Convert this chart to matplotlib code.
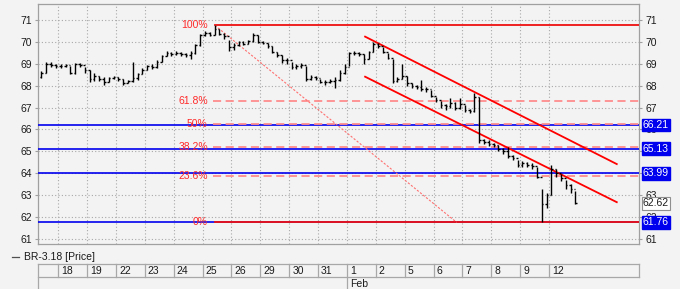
import matplotlib
matplotlib.use("Agg")
import matplotlib.pyplot as plt
from matplotlib.lines import Line2D

plt.rcParams['font.family'] = ['Liberation Sans', 'DejaVu Sans']
plt.rcParams['font.size'] = 7.5

# trading days shown on the axis (day 17 is only partly visible)
day_labels = ['18', '19', '22', '23', '24', '25', '26', '29', '30', '31',
              '1', '2', '5', '6', '7', '8', '9', '12']
month_label = 'Feb'
month_day_index = 10
bars_per_day = 6
first_day_bars = 4

first_open = 68.40
closes = [
    68.60, 69.00, 68.95, 68.90,                  # 17
    68.90, 68.95, 68.60, 69.00, 68.95, 68.70,    # 18
    68.30, 68.45, 68.30, 68.15, 68.35, 68.40,    # 19
    68.30, 68.10, 68.20, 68.35, 68.55, 68.70,    # 22
    68.90, 68.85, 69.10, 69.35, 69.50, 69.45,    # 23
    69.50, 69.45, 69.40, 69.50, 69.85, 70.30,    # 24
    70.40, 70.30, 70.60, 70.35, 70.25, 69.75,    # 25
    69.85, 70.00, 69.90, 70.05, 70.30, 70.00,    # 26
    69.95, 69.80, 69.55, 69.40, 69.15, 69.15,    # 29
    68.85, 68.90, 68.95, 68.30, 68.40, 68.35,    # 30
    68.15, 68.15, 68.20, 68.25, 68.60, 68.85,    # 31
    69.50, 69.50, 69.45, 69.20, 69.55, 69.90,    # 1
    69.80, 69.55, 69.25, 68.20, 68.30, 68.45,    # 2
    68.10, 68.00, 67.95, 67.85, 67.85, 67.55,    # 5
    67.35, 67.10, 67.05, 67.20, 67.00, 67.15,    # 6
    66.90, 66.85, 67.50, 65.50, 65.45, 65.35,    # 7
    65.30, 65.10, 65.00, 64.80, 64.70, 64.40,    # 8
    64.45, 64.40, 64.35, 63.85, 62.60, 63.00,    # 9
    64.20, 64.00, 63.80, 63.45, 63.30, 62.62,    # 12
]
highs = [
    68.65, 69.10, 69.10, 69.00,
    69.00, 69.00, 68.90, 69.05, 69.05, 68.85,
    68.70, 68.60, 68.45, 68.40, 68.40, 68.45,
    68.40, 68.30, 68.25, 69.10, 68.60, 68.80,
    68.95, 69.00, 69.15, 69.40, 69.60, 69.55,
    69.60, 69.55, 69.50, 69.60, 69.90, 70.35,
    70.50, 70.45, 70.75, 70.60, 70.40, 70.10,
    69.95, 70.05, 70.05, 70.10, 70.40, 70.30,
    70.05, 69.95, 69.80, 69.55, 69.40, 69.25,
    69.10, 69.00, 69.05, 68.90, 68.50, 68.45,
    68.30, 68.25, 68.30, 68.40, 68.70, 69.00,
    69.55, 69.60, 69.55, 69.45, 69.60, 70.00,
    69.95, 69.75, 69.50, 69.20, 68.40, 69.00,
    68.45, 68.10, 68.05, 68.25, 67.95, 67.80,
    67.50, 67.30, 67.15, 67.45, 67.25, 67.45,
    67.10, 66.95, 67.65, 67.50, 65.55, 65.50,
    65.40, 65.30, 65.15, 65.20, 64.85, 64.60,
    64.55, 64.50, 64.45, 64.30, 63.30, 63.10,
    64.40, 64.20, 63.95, 63.70, 63.50, 63.20,
]
lows = [
    68.35, 68.60, 68.85, 68.80,
    68.80, 68.85, 68.55, 68.55, 68.85, 68.60,
    68.15, 68.20, 68.20, 68.05, 68.15, 68.30,
    68.20, 68.05, 68.10, 68.15, 68.25, 68.55,
    68.70, 68.75, 68.80, 69.10, 69.35, 69.35,
    69.40, 69.35, 69.30, 69.20, 69.45, 69.80,
    70.25, 70.25, 70.30, 70.30, 70.15, 69.60,
    69.65, 69.80, 69.85, 69.90, 70.00, 69.95,
    69.90, 69.70, 69.50, 69.30, 69.05, 69.00,
    68.75, 68.75, 68.80, 68.20, 68.25, 68.25,
    68.10, 68.05, 68.10, 67.90, 68.20, 68.55,
    68.90, 69.40, 69.35, 69.00, 69.20, 69.55,
    69.70, 69.50, 69.20, 68.10, 68.15, 68.30,
    68.00, 67.90, 67.85, 67.75, 67.70, 67.50,
    67.25, 67.00, 66.90, 67.00, 66.90, 66.95,
    66.80, 66.75, 66.80, 65.40, 65.35, 65.25,
    65.20, 65.00, 64.90, 64.70, 64.60, 64.30,
    64.30, 64.30, 64.20, 63.80, 61.76, 62.40,
    63.00, 63.85, 63.65, 63.30, 63.10, 62.60,
]

# fibonacci retracement (x in trading days from the 18th)
fib_high = 70.75
fib_low = 61.76
fib_start = 5.43
fib_trend_end = 13.80
fib_ratios = [1.0, 0.618, 0.5, 0.382, 0.236, 0.0]
fib_labels = ['100%', '61.8%', '50%', '38.2%', '23.6%', '0%']

# horizontal price levels
blue_levels = [66.21, 65.13, 63.99, 61.76]
last_price = 62.62

# trend channel: (x0, y0, x1, y1)
channel_upper = [10.63, 70.24, 19.35, 64.42]
channel_lower = [10.63, 68.41, 19.35, 62.68]

yticks = list(range(61, 72))
xlim = (-0.703, 20.12)
ylim = (60.77, 71.73)

bg = '#f3f3f3'
frame = '#a0a0a0'
txt = '#1a1a1a'
W, H = 680, 289

fig = plt.figure(figsize=(W / 100, H / 100), dpi=100, facecolor=bg)
ax = fig.add_axes([38 / W, 1 - 244 / H, 601 / W, 240 / H], facecolor=bg)
ax.set_xlim(*xlim)
ax.set_ylim(*ylim)

# bar positions
xs = []
for k in range(bars_per_day - first_day_bars, bars_per_day):
    xs.append(-1 + (k + 0.5) / bars_per_day)
for i in range(len(day_labels)):
    for k in range(bars_per_day):
        xs.append(i + (k + 0.5) / bars_per_day)
opens = [first_open] + closes[:-1]

# grid
for y in yticks:
    ax.axhline(y, color='#a8a8a8', lw=0.8, ls=(0, (1, 2)), zorder=1)
for i in range(len(day_labels)):
    ax.axvline(i, color='#a8a8a8', lw=0.8, ls=(0, (1, 2)), zorder=1)

# blue levels
for lv in blue_levels:
    ax.axhline(lv, color='#0000ee', lw=1.2, zorder=3)

# fib levels
rng = fib_high - fib_low
for r, lab in zip(fib_ratios, fib_labels):
    lv = fib_low + r * rng
    if r in (0.0, 1.0):
        ax.plot([fib_start, xlim[1]], [lv, lv], color='#ee1111', lw=1.3, zorder=4)
    else:
        ax.plot([fib_start - 0.07, xlim[1]], [lv, lv], color='#ff8c8c', lw=1.3,
                dashes=(4.5, 2.5), zorder=4)
    ax.text(fib_start - 0.25, lv, lab, color='#ff2a2a', ha='right', va='center',
            fontsize=7.5, zorder=6)
ax.plot([fib_start, fib_trend_end], [fib_high, fib_low], color='#ff7070', lw=0.8,
        dashes=(2, 1.5), zorder=4)

# channel
for c in (channel_upper, channel_lower):
    ax.plot([c[0], c[2]], [c[1], c[3]], color='#ff0000', lw=1.3, zorder=4)

# OHLC bars
tw = 0.055
ax.vlines(xs, lows, highs, color='black', lw=1.0, zorder=5)
ax.hlines(opens, [x - tw for x in xs], xs, color='black', lw=1.0, zorder=5)
ax.hlines(closes, xs, [x + tw for x in xs], color='black', lw=1.0, zorder=5)

# axes styling
ax.set_yticks(yticks)
ax.set_xticks([])
ax.tick_params(axis='y', which='both', left=True, right=True, labelleft=True,
               labelright=True, length=2.5, width=0.8, color=frame, pad=2,
               labelsize=7.5, labelcolor=txt)
for s in ax.spines.values():
    s.set_color(frame)
    s.set_linewidth(0.9)

# value boxes on the right
for lv in blue_levels:
    ax.text(1.0065, lv, f'{lv:.2f}', transform=ax.get_yaxis_transform(),
            color='white', ha='left', va='center', fontsize=7.5, zorder=10,
            clip_on=False,
            bbox=dict(boxstyle='square,pad=0.12', fc='#0000ee', ec='#0000ee'))
ax.text(1.0065, last_price, f'{last_price:.2f}', transform=ax.get_yaxis_transform(),
        color=txt, ha='left', va='center', fontsize=7.5, zorder=10, clip_on=False,
        bbox=dict(boxstyle='square,pad=0.12', fc='white', ec='#909090', lw=0.8))

# legend
fig.add_artist(Line2D([12 / W, 19 / W], [1 - 257 / H] * 2, color='#505050', lw=0.9))
fig.text(24 / W, 1 - 257 / H, 'BR-3.18 [Price]', color=txt, fontsize=7.5,
         ha='left', va='center')

# date strip
ax2 = fig.add_axes([38 / W, 0, 601 / W, 25 / H], facecolor=bg)
ax2.set_xlim(*xlim)
ax2.set_ylim(0, 25)
ax2.axis('off')
lc = '#a8a8a8'
ax2.plot(list(xlim), [24.7, 24.7], color=lc, lw=0.9, clip_on=False)
ax2.plot(list(xlim), [12, 12], color=lc, lw=0.9, clip_on=False)
ax2.plot([xlim[0], xlim[0]], [0, 25], color=lc, lw=0.9, clip_on=False)
ax2.plot([xlim[1], xlim[1]], [12, 25], color=lc, lw=0.9, clip_on=False)
px = 1 / 28.86
for i, lab in enumerate(day_labels):
    y0 = 0 if i == month_day_index else 12
    ax2.plot([i, i], [y0, 25], color=lc, lw=0.9, clip_on=False)
    ax2.text(i + 3 * px, 18.3, lab, color=txt, fontsize=7.5, ha='left', va='center')
ax2.text(month_day_index + 3 * px, 5.3, month_label, color=txt, fontsize=7.5,
         ha='left', va='center')

fig.savefig('out.png', dpi=100, facecolor=bg)
